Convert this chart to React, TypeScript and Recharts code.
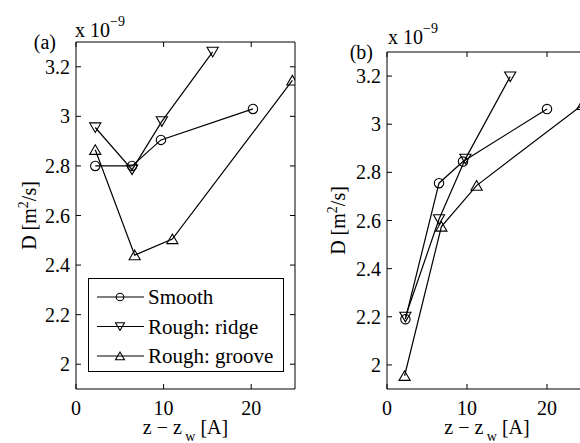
import React from 'react';
import { LineChart, Line, XAxis, YAxis, Legend } from 'recharts';

const FONT = 'Liberation Serif, Times New Roman, serif';
const INK = '#000';

// ---- tick values / labels ----
const xTicks = [0, 10, 20];
const xTickLabels = ['0', '10', '20'];
const yTicks = [2, 2.2, 2.4, 2.6, 2.8, 3, 3.2];
const yTickLabels = ['2', '2.2', '2.4', '2.6', '2.8', '3', '3.2'];
const xDomain: [number, number] = [0, 25];
const yDomain: [number, number] = [1.9, 3.3];

// ---- series ----
const seriesNames = ['Smooth', 'Rough: ridge', 'Rough: groove'];
const seriesKinds = ['circle', 'down', 'up'];

// panel (a)
const aSmoothX = [2.2, 6.4, 9.7, 20.2];
const aSmoothY = [2.8, 2.8, 2.905, 3.03];
const aRidgeX = [2.2, 6.4, 9.8, 15.6];
const aRidgeY = [2.955, 2.785, 2.98, 3.26];
const aGrooveX = [2.2, 6.7, 11.0, 24.7];
const aGrooveY = [2.865, 2.44, 2.505, 3.145];

// panel (b)
const bSmoothX = [2.3, 6.5, 9.5, 20.0];
const bSmoothY = [2.19, 2.755, 2.845, 3.063];
const bRidgeX = [2.3, 6.5, 9.8, 15.4];
const bRidgeY = [2.2, 2.605, 2.856, 3.198];
const bGrooveX = [2.2, 6.8, 11.2, 24.4];
const bGrooveY = [1.955, 2.575, 2.745, 3.08];

type Pt = { x: number; y: number };
const zip = (xs: number[], ys: number[]): Pt[] => xs.map((x, i) => ({ x, y: ys[i] }));

const textStyle = { fontFamily: FONT };

function MarkerShape({ kind, cx, cy, s = 1 }: { kind: string; cx?: number; cy?: number; s?: number }) {
  if (cx == null || cy == null || isNaN(cx) || isNaN(cy)) return null;
  const common = { fill: 'none', stroke: INK, strokeWidth: 1.1 };
  if (kind === 'circle') return <circle cx={cx} cy={cy} r={4.7 * s} {...common} />;
  if (kind === 'down')
    return (
      <polygon
        points={`${cx - 5.6 * s},${cy - 4.6 * s} ${cx + 5.6 * s},${cy - 4.6 * s} ${cx},${cy + 5 * s}`}
        {...common}
      />
    );
  return (
    <polygon
      points={`${cx - 5.6 * s},${cy + 4.6 * s} ${cx + 5.6 * s},${cy + 4.6 * s} ${cx},${cy - 5 * s}`}
      {...common}
    />
  );
}

const LegendBox = () => (
  <svg width={196} height={94} style={{ display: 'block' }}>
    <rect x={0.5} y={0.5} width={195} height={93} fill="#fff" stroke={INK} strokeWidth={1} />
    {seriesNames.map((name, i) => {
      const cy = 19 + i * 29.5;
      return (
        <g key={name}>
          <line x1={9} x2={56} y1={cy} y2={cy} stroke={INK} strokeWidth={1.2} />
          <MarkerShape kind={seriesKinds[i]} cx={32} cy={cy} s={0.8} />
          <text x={60} y={cy + 7} style={textStyle} fontFamily={FONT} fontSize={21} fill={INK}>
            {name}
          </text>
        </g>
      );
    })}
  </svg>
);

type PanelCfg = {
  left: number;
  width: number;
  plotLeft: number;
  plotRight: number;
  plotTop: number;
  plotBottom: number;
  series: Pt[][];
  tag: string;
  tagX: number;
  tagY: number;
  expX: number;
  expY: number;
  yLabelX: number;
  legend: boolean;
};

const H = 443;

function XTick(props: any) {
  const { x, y, payload } = props;
  const i = xTicks.indexOf(payload.value);
  return (
    <text x={x} y={y + 13} textAnchor="middle" style={textStyle} fontFamily={FONT} fontSize={20} fill={INK}>
      {i >= 0 ? xTickLabels[i] : String(payload.value)}
    </text>
  );
}

function YTick(props: any) {
  const { x, y, payload } = props;
  const i = yTicks.findIndex((v) => Math.abs(v - payload.value) < 1e-9);
  return (
    <text x={x} y={y + 7} textAnchor="end" style={textStyle} fontFamily={FONT} fontSize={20} fill={INK}>
      {i >= 0 ? yTickLabels[i] : String(payload.value)}
    </text>
  );
}

const NoTick = () => null;

function Panel({ cfg }: { cfg: PanelCfg }) {
  const topH = cfg.plotTop;
  const bottomH = H - cfg.plotBottom;
  const leftW = cfg.plotLeft;
  const rightW = cfg.width - cfg.plotRight;
  const cxMid = (cfg.plotLeft + cfg.plotRight) / 2;
  const cyMid = (cfg.plotTop + cfg.plotBottom) / 2;

  const XTitle = () => (
    <text x={cxMid} y={434} textAnchor="middle" style={textStyle} fontFamily={FONT} fontSize={20} fill={INK}>
      z − z
      <tspan fontSize={14} dy={7}>
        {' w'}
      </tspan>
      <tspan dy={-7}>{' [A]'}</tspan>
    </text>
  );

  const TopTitle = () => (
    <g>
      <text x={cfg.tagX} y={cfg.tagY} textAnchor="end" style={textStyle} fontFamily={FONT} fontSize={20} fill={INK}>
        {cfg.tag}
      </text>
      <text x={cfg.expX} y={cfg.expY} style={textStyle} fontFamily={FONT} fontSize={20} fill={INK}>
        x 10
        <tspan fontSize={14} dy={-11}>
          −9
        </tspan>
      </text>
    </g>
  );

  const YTitle = () => (
    <text
      x={cfg.yLabelX}
      y={cyMid}
      transform={`rotate(-90 ${cfg.yLabelX} ${cyMid})`}
      textAnchor="middle"
      style={textStyle}
      fontFamily={FONT}
      fontSize={20}
      fill={INK}
    >
      D [m
      <tspan fontSize={14} dy={-8}>
        2
      </tspan>
      <tspan dy={8}>/s]</tspan>
    </text>
  );

  const axisStyle = { stroke: INK, strokeWidth: 1 };

  return (
    <div style={{ position: 'absolute', left: cfg.left, top: 0 }}>
      <LineChart width={cfg.width} height={H} margin={{ top: 0, right: 0, bottom: 0, left: 0 }}>
        <XAxis
          xAxisId="b"
          type="number"
          dataKey="x"
          orientation="bottom"
          domain={xDomain}
          ticks={xTicks}
          interval={0}
          height={bottomH}
          tickSize={-5}
          tickMargin={18}
          tick={<XTick />}
          axisLine={axisStyle}
          tickLine={axisStyle}
          allowDataOverflow
          label={<XTitle />}
        />
        <XAxis
          xAxisId="t"
          type="number"
          dataKey="x"
          orientation="top"
          domain={xDomain}
          ticks={xTicks}
          interval={0}
          height={topH}
          tickSize={-5}
          tick={<NoTick />}
          axisLine={axisStyle}
          tickLine={axisStyle}
          allowDataOverflow
          label={<TopTitle />}
        />
        <YAxis
          yAxisId="l"
          type="number"
          orientation="left"
          domain={yDomain}
          ticks={yTicks}
          interval={0}
          width={leftW}
          tickSize={-5}
          tickMargin={11}
          tick={<YTick />}
          axisLine={axisStyle}
          tickLine={axisStyle}
          allowDataOverflow
          label={<YTitle />}
        />
        <YAxis
          yAxisId="r"
          type="number"
          orientation="right"
          domain={yDomain}
          ticks={yTicks}
          interval={0}
          width={rightW}
          tickSize={-5}
          tick={<NoTick />}
          axisLine={axisStyle}
          tickLine={axisStyle}
          allowDataOverflow
        />
        {cfg.series.map((data, i) => (
          <Line
            key={seriesNames[i]}
            name={seriesNames[i]}
            xAxisId="b"
            yAxisId="l"
            data={data}
            dataKey="y"
            type="linear"
            stroke={INK}
            strokeWidth={1.2}
            isAnimationActive={false}
            activeDot={false}
            dot={(p: any) => (
              <MarkerShape key={`${seriesKinds[i]}-${p.index}`} kind={seriesKinds[i]} cx={p.cx} cy={p.cy} />
            )}
          />
        ))}
        {cfg.legend && (
          <Legend
            layout="vertical"
            align="center"
            verticalAlign="middle"
            content={() => <LegendBox />}
            wrapperStyle={{ left: 88, top: 278, width: 196, height: 94, margin: 0, padding: 0, lineHeight: 0 }}
          />
        )}
      </LineChart>
    </div>
  );
}

const panelA: PanelCfg = {
  left: 0,
  width: 300,
  plotLeft: 76,
  plotRight: 295,
  plotTop: 42,
  plotBottom: 389,
  series: [zip(aSmoothX, aSmoothY), zip(aRidgeX, aRidgeY), zip(aGrooveX, aGrooveY)],
  tag: '(a)',
  tagX: 56,
  tagY: 49,
  expX: 75,
  expY: 37,
  yLabelX: 36,
  legend: true,
};

const panelB: PanelCfg = {
  left: 300,
  width: 300,
  plotLeft: 87,
  plotRight: 287,
  plotTop: 52,
  plotBottom: 389,
  series: [zip(bSmoothX, bSmoothY), zip(bRidgeX, bRidgeY), zip(bGrooveX, bGrooveY)],
  tag: '(b)',
  tagX: 73,
  tagY: 59,
  expX: 88,
  expY: 44,
  yLabelX: 45,
  legend: false,
};

export default function App() {
  return (
    <div
      style={{
        position: 'absolute',
        left: 0,
        top: 0,
        width: 580,
        height: 443,
        overflow: 'hidden',
        background: '#fff',
        fontFamily: FONT,
      }}
    >
      <Panel cfg={panelA} />
      <Panel cfg={panelB} />
    </div>
  );
}
